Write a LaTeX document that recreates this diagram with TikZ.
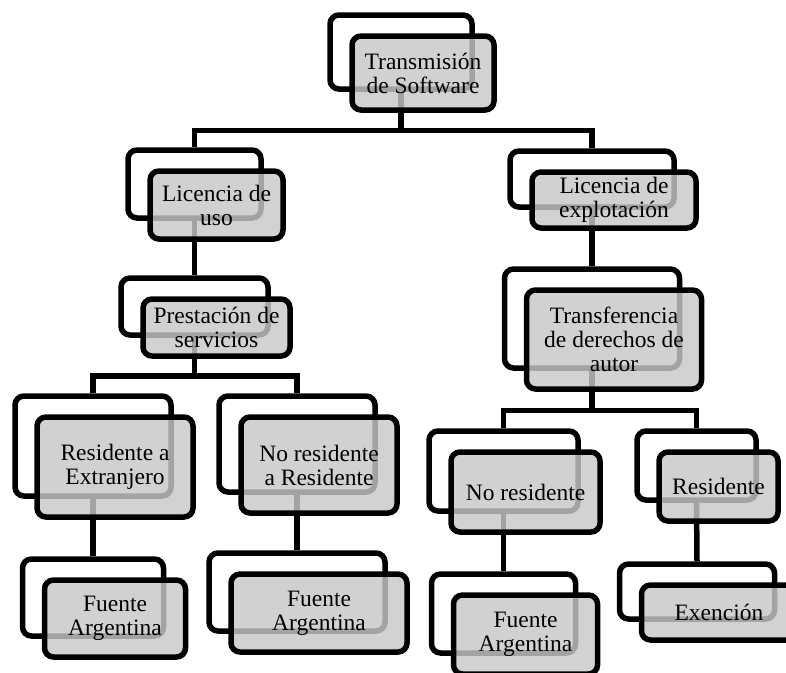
\documentclass[tikz,border=0pt]{standalone}
\usepackage{fontspec}
\setmainfont{Liberation Serif}
\usetikzlibrary{positioning}
\definecolor{cardgray}{RGB}{200,200,200}

\tikzset{
  card/.style 2 args={minimum width=#1pt, minimum height=#2pt},
  backbox/.style={draw, fill=white, line width=5.5pt, rounded corners=9pt, inner sep=0pt},
  frontbox/.style={draw, fill=cardgray, fill opacity=0.82, text opacity=1,
    line width=5.5pt, rounded corners=9pt, inner sep=0pt, align=center,
    font=\fontsize{23.5}{24}\selectfont},
  link/.style={line width=5.5pt}
}

\begin{document}
\begin{tikzpicture}[x=1pt,y=-1pt]
  \clip (0,0) rectangle (786,672);
  % back cards (white)
  \node[backbox, card={142}{74}] (top-b) at (401,52) {};
  \node[backbox, card={133}{68}] (lu-b)  at (194.5,184) {};
  \node[backbox, card={164}{56}] (le-b)  at (592,179) {};
  \node[backbox, card={147}{57}] (ps-b)  at (194.5,306.5) {};
  \node[backbox, card={175}{99}] (td-b)  at (592,318.5) {};
  \node[backbox, card={156}{100}] (re-b) at (93,446) {};
  \node[backbox, card={156}{96}] (nr-b)  at (297,444) {};
  \node[backbox, card={149}{80}] (no-b)  at (503.5,471) {};
  \node[backbox, card={119}{69}] (rs-b)  at (696.5,465.5) {};
  \node[backbox, card={141}{77}] (fa1-b) at (93,597.5) {};
  \node[backbox, card={176}{78}] (fa2-b) at (297,592) {};
  \node[backbox, card={144}{79}] (fa3-b) at (503.5,613.5) {};
  \node[backbox, card={155}{55}] (ex-b)  at (697,591.5) {};
  % elbow joints
  \coordinate (j0) at (401,130.5);
  \coordinate (j1) at (194.5,376);
  \coordinate (j2) at (592,410.5);
  % connectors (under the grey cards)
  \draw[link] (top-b.south) -- (j0) -| (lu-b.north) (j0) -| (le-b.north);
  \draw[link] (lu-b.south) -- (ps-b.north);
  \draw[link] (le-b.south) -- (td-b.north);
  \draw[link] (ps-b.south) -- (j1) -| (re-b.north) (j1) -| (nr-b.north);
  \draw[link] (td-b.south) -- (j2) -| (no-b.north) (j2) -| (rs-b.north);
  \draw[link] (re-b.south) -- (fa1-b.north);
  \draw[link] (nr-b.south) -- (fa2-b.north);
  \draw[link] (no-b.south) -- (fa3-b.north);
  \draw[link] (rs-b.south) -- (ex-b.north);
  % front cards (grey, see-through)
  \node[frontbox, card={142}{74}] (top) at ([shift={(22,21)}]top-b) {Transmisión\\de Software};
  \node[frontbox, card={133}{68}] (lu)  at ([shift={(22,21)}]lu-b) {Licencia de\\uso};
  \node[frontbox, card={164}{56}] (le)  at ([shift={(22,21)}]le-b) {Licencia de\\explotación};
  \node[frontbox, card={147}{57}] (ps)  at ([shift={(22,21)}]ps-b) {Prestación de\\servicios};
  \node[frontbox, card={175}{99}] (td)  at ([shift={(22,21)}]td-b) {Transferencia\\de derechos de\\autor};
  \node[frontbox, card={156}{100}] (re) at ([shift={(22,21)}]re-b) {Residente a\\Extranjero};
  \node[frontbox, card={156}{96}] (nr)  at ([shift={(22,21)}]nr-b) {No residente\\a Residente};
  \node[frontbox, card={149}{80}] (no)  at ([shift={(22,21)}]no-b) {No residente};
  \node[frontbox, card={119}{69}] (rs)  at ([shift={(22,21)}]rs-b) {Residente};
  \node[frontbox, card={141}{77}] (fa1) at ([shift={(22,21)}]fa1-b) {Fuente\\Argentina};
  \node[frontbox, card={176}{78}] (fa2) at ([shift={(22,21)}]fa2-b) {Fuente\\Argentina};
  \node[frontbox, card={144}{79}] (fa3) at ([shift={(22,21)}]fa3-b) {Fuente\\Argentina};
  \node[frontbox, card={155}{55}] (ex)  at ([shift={(22,21)}]ex-b) {Exención};
\end{tikzpicture}
\end{document}
